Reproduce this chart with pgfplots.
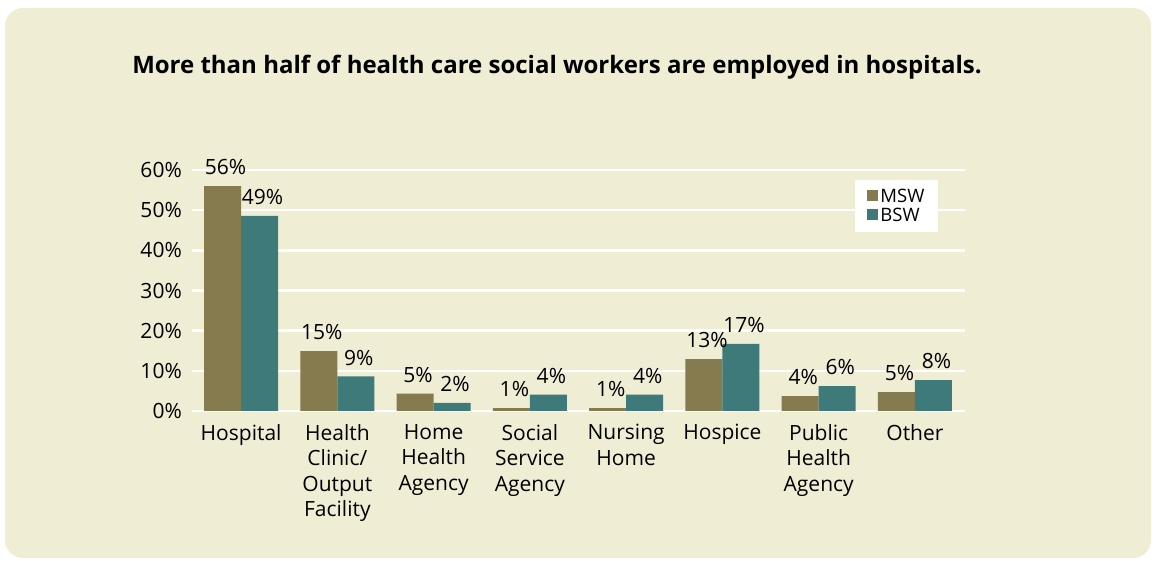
\documentclass[border=0pt]{standalone}
\usepackage{fontspec}
\setmainfont{Open Sans}
\usepackage{pgfplots}
\usepackage{pgfplotstable}
\pgfplotsset{compat=1.18}
\definecolor{msw}{HTML}{867B4F}
\definecolor{bsw}{HTML}{3E7A79}
\definecolor{bg}{HTML}{F0EDD5}
\pgfplotstableread{
x y lab
0 56.0 56
1 14.9 15
2 4.3 5
3 0.7 1
4 0.7 1
5 12.9 13
6 3.7 4
7 4.7 5
}\mswdata
\pgfplotstableread{
x y lab
0 48.6 49
1 8.6 9
2 2.0 2
3 4.1 4
4 4.1 4
5 16.7 17
6 6.2 6
7 7.7 8
}\bswdata
\begin{document}
\begin{tikzpicture}[x=1pt,y=1pt]
\fill[white] (0,0) rectangle (1155,561);
\fill[bg, rounded corners=18pt] (5,3) rectangle (1151,553);
\node[font=\bfseries\fontsize{24}{28}\selectfont] at (557,494) {More than half of health care social workers are employed in hospitals.};
\begin{axis}[
  at={(192pt,150pt)}, anchor=south west,
  scale only axis, width=773pt, height=241pt,
  xmin=-0.51, xmax=7.52, ymin=0, ymax=60,
  ybar=0pt, bar width=37pt,
  axis line style={draw=none},
  major tick length=0pt,
  ytick={0,10,...,60},
  yticklabel={\pgfmathprintnumber{\tick}\%},
  ymajorgrids, major grid style={white, line width=2.5pt},
  yticklabel style={font=\fontsize{21}{24}\selectfont, anchor=east, inner sep=0pt, xshift=-10pt},
  xtick={0,...,7},
  xticklabels={Hospital,{Health\\Clinic/\\Output\\Facility},{Home\\Health\\Agency},{Social\\Service\\Agency},{Nursing\\Home},Hospice,{Public\\Health\\Agency},Other},
  xticklabel style={font=\fontsize{21}{25.5}\selectfont, align=center, anchor=north, inner sep=0pt, yshift=-13pt},
  /pgf/number format/assume math mode=true,
  point meta=explicit symbolic,
  nodes near coords={\pgfplotspointmeta\%},
  nodes near coords style={font=\fontsize{21}{24}\selectfont, anchor=south, inner sep=0pt, yshift=11pt, xshift=3pt},
  legend style={at={(0.858,0.958)}, anchor=north west, draw=none, fill=white,
    font=\fontsize{18.5}{21}\selectfont, inner xsep=12pt, inner ysep=7pt, row sep=0pt},
  legend image code/.code={\fill[#1] (0pt,-4pt) rectangle (11pt,7pt);},
  legend cell align=left,
]
\addplot[fill=msw, draw=none] table[x=x, y=y, meta=lab] \mswdata;
\addplot[fill=bsw, draw=none] table[x=x, y=y, meta=lab] \bswdata;
\legend{MSW, BSW}
\end{axis}
\end{tikzpicture}
\end{document}
